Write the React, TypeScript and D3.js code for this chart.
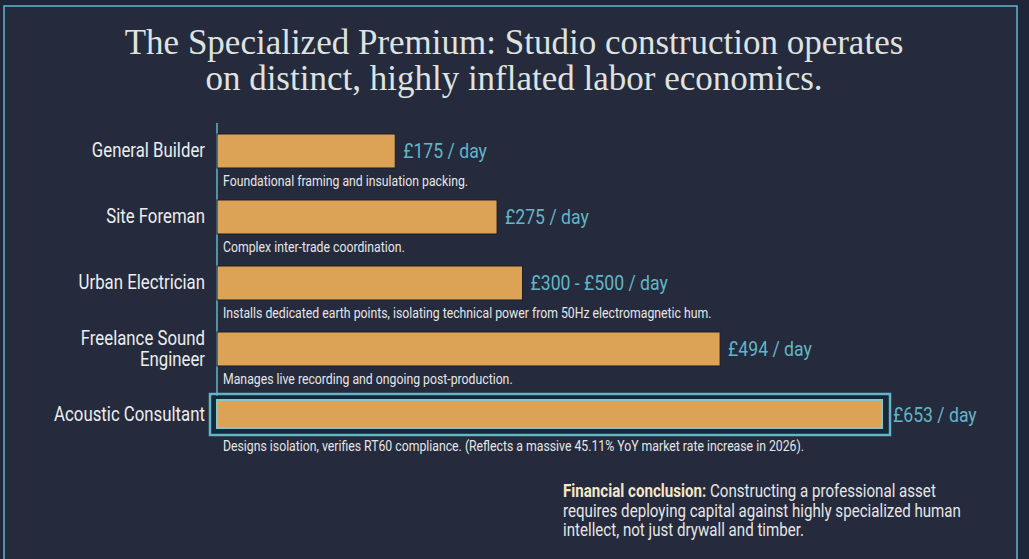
import * as d3 from "d3";
import type { ReactNode } from "react";

const categories = [
  "General Builder",
  "Site Foreman",
  "Urban Electrician",
  "Freelance Sound Engineer",
  "Acoustic Consultant",
];
const dayRates = [175, 275, 300, 494, 653];
const rateLabels = ["£175 / day", "£275 / day", "£300 - £500 / day", "£494 / day", "£653 / day"];
const descriptions = [
  "Foundational framing and insulation packing.",
  "Complex inter-trade coordination.",
  "Installs dedicated earth points, isolating technical power from 50Hz electromagnetic hum.",
  "Manages live recording and ongoing post-production.",
  "Designs isolation, verifies RT60 compliance. (Reflects a massive 45.11% YoY market rate increase in 2026).",
];
const labelLines = [["General Builder"], ["Site Foreman"], ["Urban Electrician"], ["Freelance Sound", "Engineer"], ["Acoustic Consultant"]];
const highlighted = "Acoustic Consultant";

const titleLines = [
  "The Specialized Premium: Studio construction operates",
  "on distinct, highly inflated labor economics.",
];
const conclusionLines = [
  "Constructing a professional asset",
  "requires deploying capital against highly specialized human",
  "intellect, not just drywall and timber.",
];

const W = 1029;
const H = 559;
const BG = "#252a3c";
const BAR = "#dca356";
const TEAL = "#62b6c8";
const SANS = "Roboto, 'Liberation Sans', sans-serif";
const SERIF = "'Liberation Serif', 'DejaVu Serif', serif";
const SQUEEZE = 0.84; // no condensed face installed, so narrow Roboto by hand

// text drawn in a horizontally squeezed frame to mimic a condensed face
function Narrow({ x, y, anchor = "start", size, fill, weight, children }: {
  x: number; y: number; anchor?: string; size: number; fill: string; weight?: string; children: ReactNode;
}) {
  return (
    <g transform={`translate(${x},${y}) scale(${SQUEEZE},1)`}>
      <text x={0} y={0} textAnchor={anchor} fontFamily={SANS} fontSize={size} fill={fill} fontWeight={weight}>
        {children}
      </text>
    </g>
  );
}

export default function App() {
  const x = d3.scaleLinear().domain([0, 653]).range([217, 882]);
  const y = d3
    .scaleBand<string>()
    .domain(categories)
    .range([134, 464])
    .paddingInner(0.485)
    .paddingOuter(0.2425)
    .align(0);
  const bw = y.bandwidth();

  return (
    <div style={{ position: "fixed", left: 0, top: 0, width: W, height: H, background: BG }}>
      <svg width={W} height={H} style={{ display: "block" }}>
        <rect x={0} y={0} width={W} height={H} fill="#20263a" />
        <rect x={4} y={6} width={1013} height={H + 10} fill={BG} stroke={TEAL} strokeWidth={1.5} />

        <g fontFamily={SERIF} fill="#dfe3e0" fontSize={35} textAnchor="middle">
          {titleLines.map((t, i) => (
            <text key={i} x={514} y={54 + i * 36}>
              {t}
            </text>
          ))}
        </g>

        {/* axis line */}
        <line x1={x(0)} x2={x(0)} y1={123} y2={400} stroke={TEAL} strokeWidth={1.5} />

        {categories.map((c, i) => {
          const top = y(c)!;
          const cy = top + bw / 2;
          const isHi = c === highlighted;
          const end = x(dayRates[i]);
          const lines = labelLines[i];
          return (
            <g key={c}>
              {isHi && (
                <g fill="none">
                  <rect x={x(0) - 7} y={top - 4} width={end - x(0) + 15} height={bw + 7} stroke={TEAL} strokeWidth={2.5} />
                  <rect x={x(0) - 3.5} y={top - 0.5} width={end - x(0) + 8} height={bw} stroke="#13283a" strokeWidth={3.5} />
                </g>
              )}
              <rect
                x={x(0)}
                y={isHi ? top + 2 : top}
                width={end - x(0)}
                height={isHi ? bw - 6 : bw}
                fill={BAR}
                stroke={isHi ? "#86c6c4" : "#1c1f2a"}
                strokeWidth={isHi ? 2 : 1}
              />
              <Narrow x={end + (isHi ? 11 : 8)} y={cy + 7.5} size={21} fill={TEAL}>
                {rateLabels[i]}
              </Narrow>
              {lines.map((l, j) => (
                <Narrow key={j} x={205} y={cy + 6.5 + (j - (lines.length - 1) / 2) * 21} anchor="end" size={20} fill="#eceeee">
                  {l}
                </Narrow>
              ))}
              <Narrow x={223} y={top + bw + (isHi ? 19 : 18)} size={14.6} fill="#e6e6e6">
                {descriptions[i]}
              </Narrow>
            </g>
          );
        })}

        <Narrow x={563} y={497} size={18} fill="#e6e6e6">
          <tspan fontWeight="bold" fill="#f3e8c8">Financial conclusion:</tspan> {conclusionLines[0]}
        </Narrow>
        <Narrow x={563} y={517} size={18} fill="#e6e6e6">{conclusionLines[1]}</Narrow>
        <Narrow x={563} y={536} size={18} fill="#e6e6e6">{conclusionLines[2]}</Narrow>
      </svg>
    </div>
  );
}
